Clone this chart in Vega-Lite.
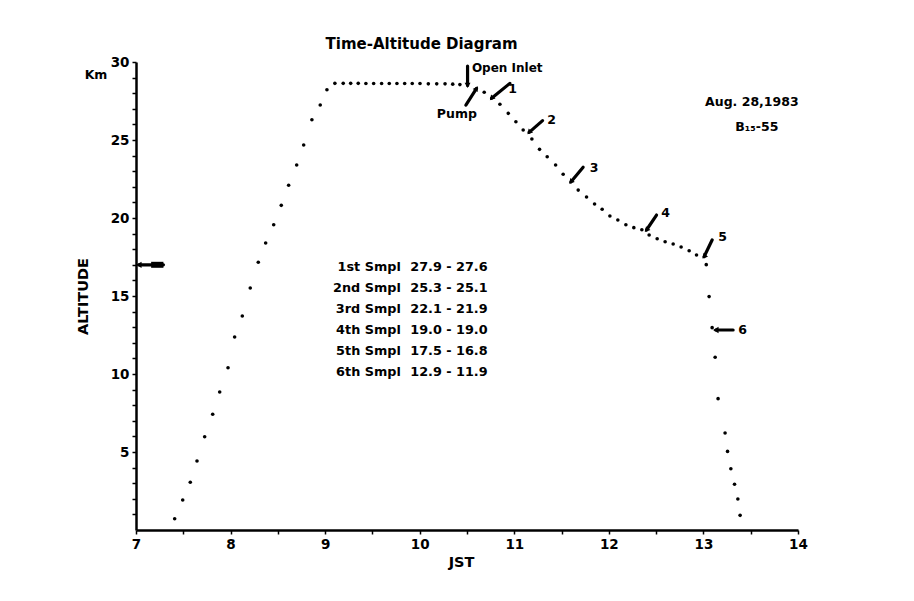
{
  "$schema": "https://vega.github.io/schema/vega-lite/v6.json",
  "width": 662,
  "height": 468,
  "autosize": {"type": "none"},
  "padding": {"left": 136, "top": 62, "right": 116, "bottom": 71},
  "background": "white",
  "config": {
    "view": {"stroke": null},
    "font": "DejaVu Sans",
    "axis": {
      "domainColor": "black", "domainWidth": 2.5, "tickColor": "black", "tickWidth": 1.5, "tickSize": 4,
      "grid": false, "labelColor": "black", "labelFont": "DejaVu Sans", "labelFontWeight": "bold", "labelFontSize": 13.5,
      "titleColor": "black", "titleFont": "DejaVu Sans", "titleFontWeight": "bold", "titleFontSize": 14.5,
      "labelOverlap": false, "labelFlush": false
    }
  },
  "datasets": {
    "flight": [
      {"x": 7.409, "y": 0.72}, {"x": 7.494, "y": 1.92}, {"x": 7.574, "y": 3.06}, {"x": 7.645, "y": 4.42},
      {"x": 7.726, "y": 5.98}, {"x": 7.811, "y": 7.42}, {"x": 7.885, "y": 8.85}, {"x": 7.973, "y": 10.40},
      {"x": 8.043, "y": 12.37}, {"x": 8.124, "y": 13.72}, {"x": 8.208, "y": 15.51}, {"x": 8.293, "y": 17.16},
      {"x": 8.371, "y": 18.40}, {"x": 8.456, "y": 19.57}, {"x": 8.536, "y": 20.81}, {"x": 8.614, "y": 22.10},
      {"x": 8.699, "y": 23.40}, {"x": 8.773, "y": 24.68}, {"x": 8.860, "y": 26.30}, {"x": 8.948, "y": 27.24},
      {"x": 9.019, "y": 28.22},
      {"x": 9.103, "y": 28.63}, {"x": 9.191, "y": 28.63}, {"x": 9.27, "y": 28.63}, {"x": 9.35, "y": 28.63},
      {"x": 9.431, "y": 28.62}, {"x": 9.513, "y": 28.62}, {"x": 9.597, "y": 28.62}, {"x": 9.678, "y": 28.62},
      {"x": 9.759, "y": 28.62}, {"x": 9.841, "y": 28.62}, {"x": 9.921, "y": 28.62}, {"x": 10.003, "y": 28.62},
      {"x": 10.091, "y": 28.6}, {"x": 10.18, "y": 28.6}, {"x": 10.268, "y": 28.6}, {"x": 10.349, "y": 28.58},
      {"x": 10.425, "y": 28.55},
      {"x": 10.682, "y": 28.06}, {"x": 10.848, "y": 27.29}, {"x": 10.936, "y": 26.71}, {"x": 11.017, "y": 26.17},
      {"x": 11.094, "y": 25.64}, {"x": 11.186, "y": 25.06}, {"x": 11.267, "y": 24.40}, {"x": 11.348, "y": 23.93},
      {"x": 11.437, "y": 23.40}, {"x": 11.517, "y": 22.80}, {"x": 11.676, "y": 21.79}, {"x": 11.764, "y": 21.35},
      {"x": 11.849, "y": 20.90}, {"x": 11.929, "y": 20.56}, {"x": 12.011, "y": 20.13}, {"x": 12.095, "y": 19.87},
      {"x": 12.180, "y": 19.57}, {"x": 12.264, "y": 19.38}, {"x": 12.349, "y": 19.25}, {"x": 12.426, "y": 18.91},
      {"x": 12.511, "y": 18.67}, {"x": 12.595, "y": 18.48}, {"x": 12.680, "y": 18.33}, {"x": 12.764, "y": 18.14},
      {"x": 12.849, "y": 17.90}, {"x": 12.927, "y": 17.63}, {"x": 13.030, "y": 17.01}, {"x": 13.060, "y": 14.96},
      {"x": 13.092, "y": 12.97}, {"x": 13.124, "y": 11.07}, {"x": 13.155, "y": 8.42}, {"x": 13.229, "y": 6.22},
      {"x": 13.255, "y": 5.04}, {"x": 13.290, "y": 3.93}, {"x": 13.329, "y": 2.93}, {"x": 13.364, "y": 1.99},
      {"x": 13.388, "y": 0.94}
    ],
    "arrows": [
      {"name": "Open Inlet", "x": 10.506, "y": 28.5, "x2": 10.506, "y2": 29.74},
      {"name": "Pump", "x": 10.601, "y": 28.31, "x2": 10.488, "y2": 27.24},
      {"name": "1", "x": 10.76, "y": 27.67, "x2": 10.953, "y2": 28.63},
      {"name": "2", "x": 11.157, "y": 25.49, "x2": 11.299, "y2": 26.24},
      {"name": "3", "x": 11.598, "y": 22.31, "x2": 11.728, "y2": 23.25},
      {"name": "4", "x": 12.398, "y": 19.23, "x2": 12.504, "y2": 20.19},
      {"name": "5", "x": 13.007, "y": 17.52, "x2": 13.092, "y2": 18.59},
      {"name": "6", "x": 13.131, "y": 12.82, "x2": 13.314, "y2": 12.82},
      {"name": "axis", "x": 7.03, "y": 17.0, "x2": 7.29, "y2": 17.0}
    ],
    "blocks": [
      {"x": 7.16, "y": 17.0, "x2": 7.29, "y2": 17.0}
    ],
    "notes": [
      {"text": "Pump", "x": 10.393, "y": 26.67},
      {"text": "1", "x": 10.982, "y": 28.25},
      {"text": "2", "x": 11.394, "y": 26.28},
      {"text": "3", "x": 11.845, "y": 23.22},
      {"text": "4", "x": 12.599, "y": 20.3},
      {"text": "5", "x": 13.202, "y": 18.76},
      {"text": "6", "x": 13.413, "y": 12.82},
      {"text": "Aug. 28,1983", "x": 13.512, "y": 27.44},
      {"text": "B₁₅-55", "x": 13.565, "y": 25.83},
      {"text": "Km", "x": 6.577, "y": 29.17}
    ],
    "leftnotes": [
      {"text": "Open Inlet", "x": 10.552, "y": 29.62}
    ],
    "titles": [
      {"text": "Time-Altitude Diagram", "x": 10.02, "y": 31.15}
    ],
    "names": [
      {"text": "1st Smpl", "x": 9.80, "y": 16.86},
      {"text": "2nd Smpl", "x": 9.80, "y": 15.51},
      {"text": "3rd Smpl", "x": 9.80, "y": 14.17},
      {"text": "4th Smpl", "x": 9.80, "y": 12.82},
      {"text": "5th Smpl", "x": 9.80, "y": 11.47},
      {"text": "6th Smpl", "x": 9.80, "y": 10.13}
    ],
    "ranges": [
      {"text": "27.9 - 27.6", "x": 9.90, "y": 16.86},
      {"text": "25.3 - 25.1", "x": 9.90, "y": 15.51},
      {"text": "22.1 - 21.9", "x": 9.90, "y": 14.17},
      {"text": "19.0 - 19.0", "x": 9.90, "y": 12.82},
      {"text": "17.5 - 16.8", "x": 9.90, "y": 11.47},
      {"text": "12.9 - 11.9", "x": 9.90, "y": 10.13}
    ]
  },
  "encoding": {
    "x": {
      "field": "x", "type": "quantitative",
      "scale": {"domain": [7, 14], "nice": false, "zero": false},
      "axis": {
        "title": "JST", "titleX": 325, "titlePadding": 5, "labelPadding": 3,
        "values": [7, 7.5, 8, 8.5, 9, 9.5, 10, 10.5, 11, 11.5, 12, 12.5, 13, 13.5, 14],
        "labelExpr": "datum.value % 1 == 0 ? format(datum.value, 'd') : ''"
      }
    },
    "y": {
      "field": "y", "type": "quantitative",
      "scale": {"domain": [0, 30], "nice": false, "zero": true},
      "axis": {
        "title": "ALTITUDE", "titlePadding": 20, "labelPadding": 3,
        "values": [1, 2, 3, 4, 5, 6, 7, 8, 9, 10, 11, 12, 13, 14, 15, 16, 17, 18, 19, 20, 21, 22, 23, 24, 25, 26, 27, 28, 29, 30],
        "labelExpr": "datum.value % 5 == 0 ? format(datum.value, 'd') : ''"
      }
    }
  },
  "layer": [
    {
      "data": {"name": "flight"},
      "mark": {"type": "point", "filled": true, "size": 13, "color": "black", "opacity": 1}
    },
    {
      "data": {"name": "arrows"},
      "mark": {"type": "rule", "strokeWidth": 3.2, "color": "black", "strokeCap": "round"},
      "encoding": {"x2": {"field": "x2"}, "y2": {"field": "y2"}}
    },
    {
      "data": {"name": "blocks"},
      "mark": {"type": "rule", "strokeWidth": 6, "color": "black", "strokeCap": "butt"},
      "encoding": {"x2": {"field": "x2"}, "y2": {"field": "y2"}}
    },
    {
      "data": {"name": "arrows"},
      "transform": [{"filter": "indexof(['1','2','3','4','5'], datum.name) >= 0"}],
      "mark": {"type": "point", "shape": "triangle-up", "filled": true, "size": 35, "color": "black", "opacity": 1, "angle": 222}
    },
    {
      "data": {"name": "arrows"},
      "transform": [{"filter": "datum.name == 'Pump'"}],
      "mark": {"type": "point", "shape": "triangle-up", "filled": true, "size": 35, "color": "black", "opacity": 1, "angle": 33}
    },
    {
      "data": {"name": "arrows"},
      "transform": [{"filter": "datum.name == 'Open Inlet'"}],
      "mark": {"type": "point", "shape": "triangle-down", "filled": true, "size": 35, "color": "black", "opacity": 1}
    },
    {
      "data": {"name": "arrows"},
      "transform": [{"filter": "datum.name == '6' || datum.name == 'axis'"}],
      "mark": {"type": "point", "shape": "triangle-left", "filled": true, "size": 40, "color": "black", "opacity": 1}
    },
    {
      "data": {"name": "notes"},
      "mark": {"type": "text", "font": "DejaVu Sans", "fontWeight": "bold", "fontSize": 12.5, "align": "center", "baseline": "middle", "color": "black", "clip": false},
      "encoding": {"text": {"field": "text"}}
    },
    {
      "data": {"name": "leftnotes"},
      "mark": {"type": "text", "font": "DejaVu Sans", "fontWeight": "bold", "fontSize": 12, "align": "left", "baseline": "middle", "color": "black", "clip": false},
      "encoding": {"text": {"field": "text"}}
    },
    {
      "data": {"name": "titles"},
      "mark": {"type": "text", "font": "DejaVu Sans", "fontWeight": "bold", "fontSize": 15, "align": "center", "baseline": "middle", "color": "black", "clip": false},
      "encoding": {"text": {"field": "text"}}
    },
    {
      "data": {"name": "names"},
      "mark": {"type": "text", "font": "DejaVu Sans", "fontWeight": "bold", "fontSize": 12.8, "align": "right", "baseline": "middle", "color": "black", "clip": false},
      "encoding": {"text": {"field": "text"}}
    },
    {
      "data": {"name": "ranges"},
      "mark": {"type": "text", "font": "DejaVu Sans", "fontWeight": "bold", "fontSize": 12.8, "align": "left", "baseline": "middle", "color": "black", "clip": false},
      "encoding": {"text": {"field": "text"}}
    }
  ]
}
